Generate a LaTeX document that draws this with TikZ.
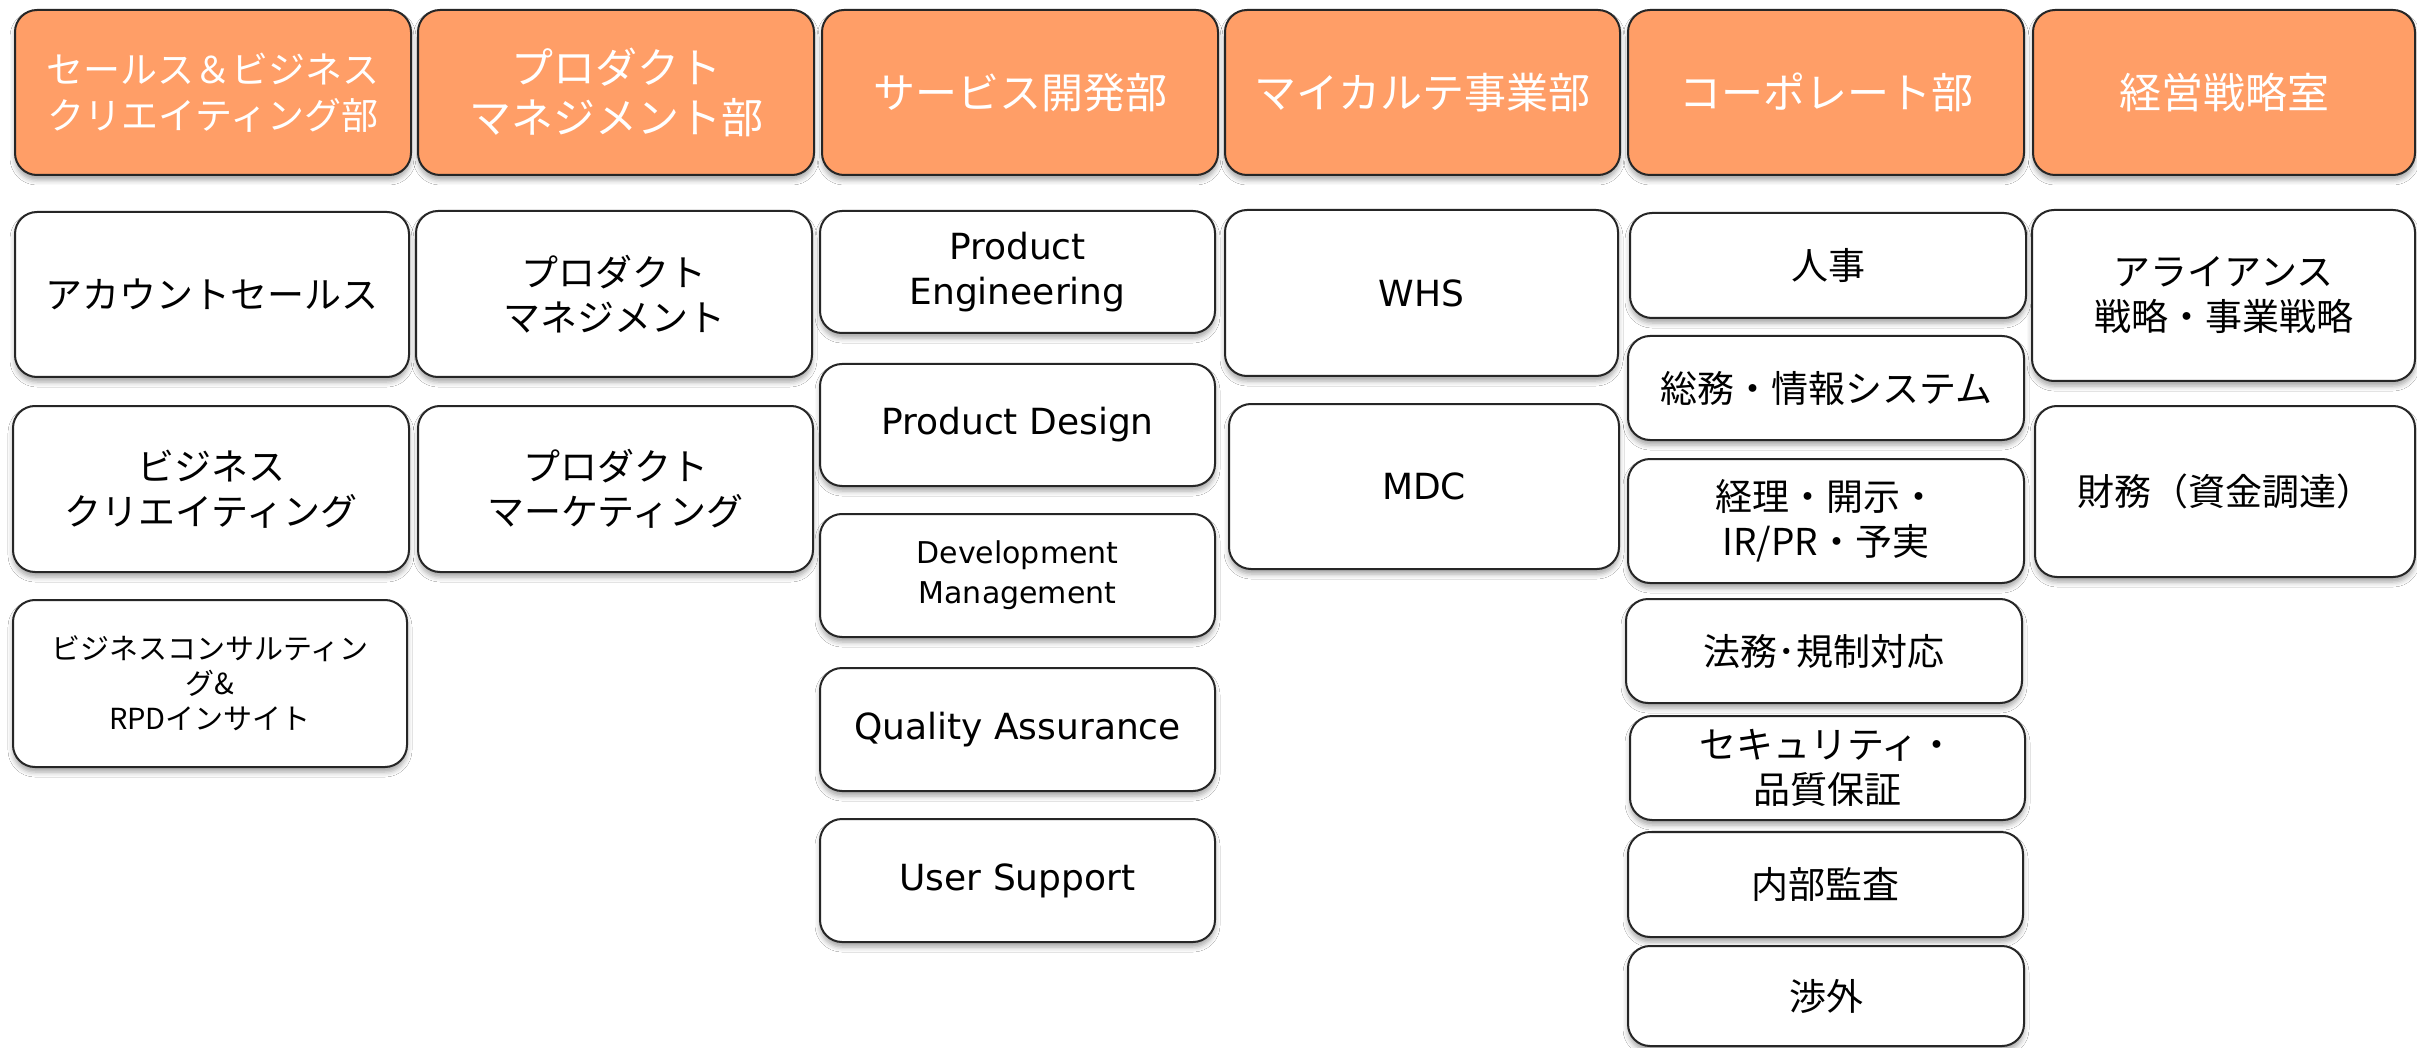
\documentclass[tikz,border=0pt]{standalone}
\usepackage{fontspec}
\setmainfont{Noto Sans CJK JP}
\newfontfamily\enfont{DejaVu Sans}
\usetikzlibrary{shadows.blur}
\definecolor{hdrorange}{RGB}{255,158,103}
\definecolor{edge}{RGB}{38,38,38}
\newcommand\orgbox[7]{%
  \node[#1, minimum width={(#5-#3)*1pt}, minimum height={(#6-#4)*1pt}]
    (#2) at ({(#3+#5)/2},{(#4+#6)/2}) {#7};}
\tikzset{
  basebox/.style={draw=edge, line width=2pt, rounded corners=22pt, align=center, inner sep=0pt,
    blur shadow={shadow xshift=0pt, shadow yshift=-5pt, shadow blur radius=5pt, shadow opacity=35}},
  hdr/.style={basebox, fill=hdrorange, text=white, font=\fontsize{42}{50}\selectfont},
  unitjp/.style={basebox, fill=white, text=black, font=\fontsize{37}{45}\selectfont},
  uniten/.style={basebox, fill=white, text=black, font=\enfont\fontsize{36}{45}\selectfont},
}
\begin{document}
\begin{tikzpicture}[x=1pt,y=-1pt]
\useasboundingbox[fill=white] (0,0) rectangle (2417,1048);
% headers
\orgbox{hdr, font=\fontsize{37}{46}\selectfont}{h1}{15}{10}{411}{175}{セールス＆ビジネス\\クリエイティング部}
\orgbox{hdr}{h2}{418}{10}{814}{175}{プロダクト\\マネジメント部}
\orgbox{hdr}{h3}{822}{10}{1218}{175}{サービス開発部}
\orgbox{hdr}{h4}{1225}{10}{1620}{175}{マイカルテ事業部}
\orgbox{hdr}{h5}{1628}{10}{2024}{175}{コーポレート部}
\orgbox{hdr}{h6}{2033}{10}{2415}{175}{経営戦略室}
% column 1
\orgbox{unitjp}{a1}{15}{212}{409}{377}{アカウントセールス}
\orgbox{unitjp}{a2}{13}{406}{409}{572}{ビジネス\\クリエイティング}
\orgbox{unitjp, font=\fontsize{29}{35}\selectfont}{a3}{13}{600}{407}{767}{ビジネスコンサルティン\\グ\&\\RPDインサイト}
% column 2
\orgbox{unitjp}{b1}{416}{211}{812}{377}{プロダクト\\マネジメント}
\orgbox{unitjp}{b2}{418}{406}{813}{572}{プロダクト\\マーケティング}
% column 3
\orgbox{uniten}{c1}{820}{211}{1215}{333}{Product\\Engineering}
\orgbox{uniten}{c2}{820}{364}{1215}{486}{Product Design}
\orgbox{uniten, font=\enfont\fontsize{30}{40}\selectfont}{c3}{820}{514}{1215}{637}{Development\\Management}
\orgbox{uniten}{c4}{820}{668}{1215}{791}{Quality Assurance}
\orgbox{uniten}{c5}{820}{819}{1215}{942}{User Support}
% column 4
\orgbox{uniten}{d1}{1225}{210}{1618}{376}{WHS}
\orgbox{uniten}{d2}{1229}{404}{1619}{569}{MDC}
% column 5
\orgbox{unitjp}{e1}{1630}{213}{2026}{318}{人事}
\orgbox{unitjp}{e2}{1628}{336}{2024}{440}{総務・情報システム}
\orgbox{unitjp}{e3}{1628}{459}{2024}{583}{経理・開示・\\IR/PR・予実}
\orgbox{unitjp}{e4}{1626}{599}{2022}{703}{法務･規制対応}
\orgbox{unitjp}{e5}{1630}{716}{2025}{820}{セキュリティ・\\品質保証}
\orgbox{unitjp}{e6}{1628}{832}{2023}{937}{内部監査}
\orgbox{unitjp}{e7}{1628}{946}{2024}{1046}{渉外}
% column 6
\orgbox{unitjp}{f1}{2032}{210}{2415}{381}{アライアンス\\戦略・事業戦略}
\orgbox{unitjp}{f2}{2035}{406}{2415}{577}{財務（資金調達）}
\end{tikzpicture}
\end{document}
